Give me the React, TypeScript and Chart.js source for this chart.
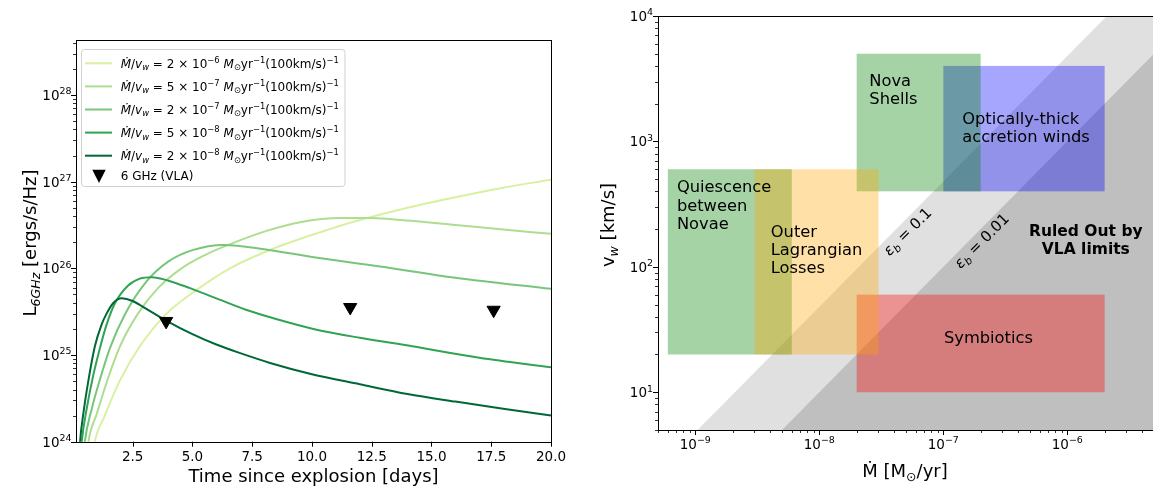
import { useEffect, useRef } from 'react';
import { Chart, registerables } from 'chart.js';

Chart.register(...registerables);

const FONT = '"DejaVu Sans", sans-serif';
const TICK_SIZE = 13.5;
const TITLE_SIZE = 18;

// ---------- Left panel: 6 GHz light curves, one per wind density Ṁ/v_w ----------
// time since explosion [days] and spectral luminosity [erg/s/Hz]
const daysA = [0.8, 0.92, 1.3, 1.97, 2.8, 3.92, 5, 6.57, 8.5, 10.6, 12, 14, 16, 18, 20];
const lumA = [5.6e23, 1.0e24, 1.9e24, 5.1e24, 1.26e25, 3.0e25, 5.2e25, 1.0e26, 1.74e26, 2.75e26, 3.6e26, 5.0e26, 6.6e26, 8.5e26, 1.05e27];

const daysB = [0.55, 0.65, 1.0, 1.47, 1.97, 2.72, 3.56, 4.5, 5.5, 6.5, 8.1, 9.5, 11.2, 12.5, 14, 16, 18, 20];
const lumB = [5.6e23, 1.0e24, 2.1e24, 5.4e24, 1.26e25, 3.0e25, 5.9e25, 9.8e25, 1.41e26, 1.86e26, 2.7e26, 3.4e26, 3.8e26, 3.8e26, 3.55e26, 3.16e26, 2.8e26, 2.5e26];

const daysC = [0.42, 0.5, 0.8, 1.13, 1.55, 2.18, 3.09, 4, 5, 6.3, 8, 10, 12.85, 16, 20];
const lumC = [5.6e23, 1.0e24, 2.45e24, 5.2e24, 1.2e25, 2.95e25, 7.1e25, 1.2e26, 1.62e26, 1.86e26, 1.66e26, 1.35e26, 1.05e26, 7.8e25, 5.8e25];

const daysD = [0.3, 0.37, 0.6, 0.85, 1.13, 1.4, 1.77, 2.3, 2.8, 3.3, 4.0, 4.9, 6.0, 7.27, 8.5, 10.06, 12, 14.2, 17, 20];
const lumD = [5.6e23, 1.0e24, 2.6e24, 5.8e24, 1.2e25, 2.2e25, 4.0e25, 6.3e25, 7.6e25, 7.9e25, 7.2e25, 5.9e25, 4.5e25, 3.3e25, 2.6e25, 2.0e25, 1.58e25, 1.26e25, 9.3e24, 7.2e24];

const daysE = [0.26, 0.3, 0.45, 0.65, 0.92, 1.2, 1.41, 1.7, 2.04, 2.5, 3.0, 3.9, 5, 6, 7, 8.25, 10, 12, 14, 16, 18, 20];
const lumE = [6.3e23, 1.0e24, 2.24e24, 5.1e24, 1.26e25, 2.24e25, 3.0e25, 4.0e25, 4.5e25, 4.2e25, 3.5e25, 2.5e25, 1.74e25, 1.32e25, 1.05e25, 8.1e24, 6.0e24, 4.6e24, 3.55e24, 2.9e24, 2.4e24, 2.0e24];

const windMantissa = ['2', '5', '2', '5', '2'];
const windExponent = ['−6', '−7', '−7', '−8', '−8'];
const windColors = ['#d9f0a3', '#addd8e', '#78c679', '#31a354', '#006837'];
const windDays = [daysA, daysB, daysC, daysD, daysE];
const windLum = [lumA, lumB, lumC, lumD, lumE];

// VLA 6 GHz upper limits
const vlaDays = [3.9, 11.6, 17.6];
const vlaLimits = [2.45e25, 3.55e25, 3.3e25];

const timeTicks = [2.5, 5, 7.5, 10, 12.5, 15, 17.5, 20];
const lumDecades = [24, 25, 26, 27, 28];

// ---------- Right panel: mass-loss rate vs wind speed ----------
const regionNames = [
  ['Optically-thick', 'accretion winds'],
  ['Nova', 'Shells'],
  ['Quiescence', 'between', 'Novae'],
  ['Symbiotics'],
  ['Outer', 'Lagrangian', 'Losses'],
];
const regionMdotMin = [1e-7, 2e-8, 6e-10, 2e-8, 3e-9];
const regionMdotMax = [2e-6, 2e-7, 6e-9, 2e-6, 3e-8];
const regionVMin = [400, 400, 20, 10, 20];
const regionVMax = [4000, 5000, 600, 60, 600];
const regionColors = ['rgba(0,0,255,0.35)', 'rgba(0,128,0,0.35)', 'rgba(0,128,0,0.35)', 'rgba(255,0,0,0.35)', 'rgba(255,165,0,0.35)'];

// limit lines for two magnetic-field efficiencies
const boundaryMdot = [5e-10, 5e-6];
const eps01V = [2.4, 24000];
const eps001V = [0.5, 5000];

const mdotDecades = [-9, -8, -7, -6];
const vDecades = [1, 2, 3, 4];
const MINOR_MANTISSAS = [2, 3, 4, 5, 6, 7, 8, 9];

// label placement in data coordinates (Ṁ, v_w) of the first line's centre
const REGION_LABEL_AT: [number, number, 'left' | 'center'][] = [
  [1.42e-7, 1546, 'left'],
  [2.53e-8, 3090, 'left'],
  [7.1e-10, 436, 'left'],
  [2.31e-7, 27.4, 'center'],
  [4.06e-9, 194, 'left'],
];

type Run = { t: string; it?: boolean; b?: boolean; sub?: boolean; sup?: boolean };

function fontOf(r: Run, size: number) {
  const s = r.sub || r.sup ? size * 0.7 : size;
  return `${r.it ? 'italic ' : ''}${r.b ? 'bold ' : ''}${s}px ${FONT}`;
}

function runsWidth(ctx: CanvasRenderingContext2D, runs: Run[], size: number) {
  let w = 0;
  for (const r of runs) {
    ctx.font = fontOf(r, size);
    w += ctx.measureText(r.t).width;
  }
  return w;
}

function drawRuns(ctx: CanvasRenderingContext2D, runs: Run[], x: number, baseline: number, size: number, align: 'left' | 'center' | 'right') {
  const w = runsWidth(ctx, runs, size);
  let cx = align === 'left' ? x : align === 'center' ? x - w / 2 : x - w;
  ctx.textAlign = 'left';
  ctx.textBaseline = 'alphabetic';
  for (const r of runs) {
    ctx.font = fontOf(r, size);
    const dy = r.sub ? size * 0.22 : r.sup ? -size * 0.42 : 0;
    ctx.fillText(r.t, cx, baseline + dy);
    cx += ctx.measureText(r.t).width;
  }
}

function powRuns(e: number): Run[] {
  return [{ t: '10' }, { t: e < 0 ? '−' + -e : String(e), sup: true }];
}

function minorValues(min: number, max: number): number[] {
  const out: number[] = [];
  for (let e = Math.floor(Math.log10(min)); e <= Math.ceil(Math.log10(max)); e++) {
    for (const m of MINOR_MANTISSAS) {
      const v = m * Math.pow(10, e);
      if (v >= min * 0.999 && v <= max * 1.001) out.push(v);
    }
  }
  return out;
}

function xTick(ctx: CanvasRenderingContext2D, chart: any, v: number, len: number, lw: number) {
  const x = Math.round(chart.scales.x.getPixelForValue(v)) + 0.5;
  const y = chart.chartArea.bottom;
  ctx.lineWidth = lw;
  ctx.beginPath();
  ctx.moveTo(x, y);
  ctx.lineTo(x, y + len);
  ctx.stroke();
}

function yTick(ctx: CanvasRenderingContext2D, chart: any, v: number, len: number, lw: number) {
  const y = Math.round(chart.scales.y.getPixelForValue(v)) + 0.5;
  const x = chart.chartArea.left;
  ctx.lineWidth = lw;
  ctx.beginPath();
  ctx.moveTo(x, y);
  ctx.lineTo(x - len, y);
  ctx.stroke();
}

function drawFrame(ctx: CanvasRenderingContext2D, a: any) {
  ctx.lineWidth = 1;
  ctx.strokeStyle = '#000';
  ctx.strokeRect(Math.round(a.left) + 0.5, Math.round(a.top) + 0.5, Math.round(a.right - a.left), Math.round(a.bottom - a.top));
}

function verticalTitle(ctx: CanvasRenderingContext2D, runs: Run[], cx: number, cy: number, size: number) {
  ctx.save();
  ctx.translate(cx, cy);
  ctx.rotate(-Math.PI / 2);
  drawRuns(ctx, runs, 0, size * 0.36, size, 'center');
  ctx.restore();
}

function windLabel(i: number): Run[] {
  return [
    { t: 'Ṁ', it: true },
    { t: '/' },
    { t: 'v', it: true },
    { t: 'w', it: true, sub: true },
    { t: ' = ' + windMantissa[i] + ' × 10' },
    { t: windExponent[i], sup: true },
    { t: ' ' },
    { t: 'M', it: true },
    { t: '⊙', sub: true },
    { t: 'yr' },
    { t: '−1', sup: true },
    { t: '(100km/s)' },
    { t: '−1', sup: true },
  ];
}

const leftDecor = {
  id: 'leftDecor',
  afterDraw(chart: any) {
    const { ctx, chartArea: a, scales } = chart;
    ctx.save();
    ctx.strokeStyle = '#000';
    ctx.fillStyle = '#000';

    for (const v of timeTicks) {
      xTick(ctx, chart, v, 5, 1);
      drawRuns(ctx, [{ t: v.toFixed(1) }], scales.x.getPixelForValue(v), a.bottom + 19, TICK_SIZE, 'center');
    }
    for (const e of lumDecades) {
      const v = Math.pow(10, e);
      yTick(ctx, chart, v, 5, 1);
      drawRuns(ctx, powRuns(e), a.left - 4.5, scales.y.getPixelForValue(v) + 5, TICK_SIZE, 'right');
    }
    for (const v of minorValues(scales.y.min, scales.y.max)) yTick(ctx, chart, v, 3, 0.8);

    drawFrame(ctx, a);

    ctx.fillStyle = '#000';
    drawRuns(ctx, [{ t: 'Time since explosion [days]' }], (a.left + a.right) / 2, 482, TITLE_SIZE, 'center');
    verticalTitle(ctx, [{ t: 'L' }, { t: '6GHz', it: true, sub: true }, { t: ' [ergs/s/Hz]' }], 30, 243, TITLE_SIZE);

    // legend
    const bx = a.left + 5.5;
    const by = a.top + 9.5;
    const bw = 263.5;
    const bh = 137;
    ctx.beginPath();
    ctx.roundRect(bx, by, bw, bh, 3);
    ctx.fillStyle = 'rgba(255,255,255,0.8)';
    ctx.fill();
    ctx.strokeStyle = 'rgba(204,204,204,0.9)';
    ctx.lineWidth = 1;
    ctx.stroke();
    const size = 12;
    for (let i = 0; i < windColors.length; i++) {
      const ry = a.top + 23.3 + i * 23.1;
      ctx.strokeStyle = windColors[i];
      ctx.lineWidth = 2;
      ctx.beginPath();
      ctx.moveTo(a.left + 9, ry);
      ctx.lineTo(a.left + 36, ry);
      ctx.stroke();
      ctx.fillStyle = '#000';
      drawRuns(ctx, windLabel(i), a.left + 44.7, ry + 4.3, size, 'left');
    }
    const ty = a.top + 136;
    const tx = a.left + 23;
    ctx.fillStyle = '#000';
    ctx.beginPath();
    ctx.moveTo(tx - 6.7, ty - 6.2);
    ctx.lineTo(tx + 6.7, ty - 6.2);
    ctx.lineTo(tx, ty + 7);
    ctx.closePath();
    ctx.fill();
    drawRuns(ctx, [{ t: '6 GHz (VLA)' }], a.left + 44.7, ty + 4.3, size, 'left');
    ctx.restore();
  },
};

const rightDecor = {
  id: 'rightDecor',
  afterDatasetsDraw(chart: any) {
    const { ctx, chartArea: a, scales } = chart;
    ctx.save();
    ctx.beginPath();
    ctx.rect(a.left, a.top, a.right - a.left, a.bottom - a.top);
    ctx.clip();
    for (let i = 0; i < regionNames.length; i++) {
      const x0 = scales.x.getPixelForValue(regionMdotMin[i]);
      const x1 = scales.x.getPixelForValue(regionMdotMax[i]);
      const y0 = scales.y.getPixelForValue(regionVMax[i]);
      const y1 = scales.y.getPixelForValue(regionVMin[i]);
      ctx.fillStyle = regionColors[i];
      ctx.fillRect(x0, y0, x1 - x0, y1 - y0);
    }
    const size = 16.3;
    const gap = 18.3;
    ctx.fillStyle = '#000';
    for (let i = 0; i < regionNames.length; i++) {
      const [m, v, align] = REGION_LABEL_AT[i];
      const x = scales.x.getPixelForValue(m);
      const y = scales.y.getPixelForValue(v);
      regionNames[i].forEach((line, k) => drawRuns(ctx, [{ t: line }], x, y + k * gap + size * 0.36, size, align));
    }
    // ruled-out note
    const rx = scales.x.getPixelForValue(1.41e-6);
    const ry = scales.y.getPixelForValue(194);
    drawRuns(ctx, [{ t: 'Ruled Out by', b: true }], rx, ry + 5.6, 15.5, 'center');
    drawRuns(ctx, [{ t: 'VLA limits', b: true }], rx, ry + 17.6 + 5.6, 15.5, 'center');
    // efficiency labels along the limit lines
    const eps: [number, number, string][] = [
      [5.14e-8, 191, ' = 0.1'],
      [2.04e-7, 161, ' = 0.01'],
    ];
    for (const [m, v, txt] of eps) {
      ctx.save();
      ctx.translate(scales.x.getPixelForValue(m), scales.y.getPixelForValue(v));
      ctx.rotate(-Math.PI / 4);
      drawRuns(ctx, [{ t: 'ε', it: true }, { t: 'b', it: true, sub: true }, { t: txt }], 0, 5, 15, 'center');
      ctx.restore();
    }
    ctx.restore();
  },
  afterDraw(chart: any) {
    const { ctx, chartArea: a, scales } = chart;
    ctx.save();
    ctx.strokeStyle = '#000';
    ctx.fillStyle = '#000';
    for (const e of mdotDecades) {
      const v = Math.pow(10, e);
      xTick(ctx, chart, v, 5, 1);
      drawRuns(ctx, powRuns(e), scales.x.getPixelForValue(v), a.bottom + 18.5, TICK_SIZE, 'center');
    }
    for (const v of minorValues(scales.x.min, scales.x.max)) xTick(ctx, chart, v, 3, 0.8);
    for (const e of vDecades) {
      const v = Math.pow(10, e);
      yTick(ctx, chart, v, 5, 1);
      drawRuns(ctx, powRuns(e), a.left - 5, scales.y.getPixelForValue(v) + 5, TICK_SIZE, 'right');
    }
    for (const v of minorValues(scales.y.min, scales.y.max)) yTick(ctx, chart, v, 3, 0.8);
    drawFrame(ctx, a);
    ctx.fillStyle = '#000';
    drawRuns(ctx, [{ t: 'Ṁ' }, { t: ' [M' }, { t: '⊙', sub: true }, { t: '/yr]' }], (a.left + a.right) / 2 - 1, 477, TITLE_SIZE, 'center');
    verticalTitle(ctx, [{ t: 'v' }, { t: 'w', it: true, sub: true }, { t: ' [km/s]' }], a.left - 50.5, 225, TITLE_SIZE);
    ctx.restore();
  },
};

export default function App() {
  const leftRef = useRef<HTMLCanvasElement>(null);
  const rightRef = useRef<HTMLCanvasElement>(null);

  useEffect(() => {
    const curveSets: any[] = windColors.map((c, i) => ({
      type: 'line',
      data: windDays[i].map((d, k) => ({ x: d, y: windLum[i][k] })),
      borderColor: c,
      backgroundColor: c,
      borderWidth: 2,
      pointRadius: 0,
      cubicInterpolationMode: 'monotone',
      fill: false,
      order: 5 - i,
    }));
    const vlaSet: any = {
      type: 'line',
      data: vlaDays.map((d, k) => ({ x: d, y: vlaLimits[k] })),
      showLine: false,
      pointStyle: 'triangle',
      rotation: 180,
      pointRadius: 7.6,
      pointBorderWidth: 1,
      pointBackgroundColor: '#000',
      pointBorderColor: '#000',
      order: 0,
    };

    const left = new Chart(leftRef.current as HTMLCanvasElement, {
      type: 'line',
      data: { datasets: [vlaSet, ...curveSets] },
      options: {
        animation: false,
        responsive: false,
        devicePixelRatio: 1,
        events: [],
        layout: { padding: { left: 76, top: 40, right: 25, bottom: 49.3 } },
        plugins: { legend: { display: false }, tooltip: { enabled: false } },
        scales: {
          x: { type: 'linear', min: 0.13, max: 20, display: false },
          y: { type: 'logarithmic', min: 1e24, max: 4.3e28, display: false },
        },
      },
      plugins: [leftDecor],
    } as any);

    const right = new Chart(rightRef.current as HTMLCanvasElement, {
      type: 'line',
      data: {
        datasets: [
          {
            data: boundaryMdot.map((m, k) => ({ x: m, y: eps001V[k] })),
            fill: 'start',
            backgroundColor: '#bfbfbf',
            borderColor: 'rgba(0,0,0,0)',
            borderWidth: 0,
            pointRadius: 0,
            order: 0,
          },
          {
            data: boundaryMdot.map((m, k) => ({ x: m, y: eps01V[k] })),
            fill: 'start',
            backgroundColor: '#e0e0e0',
            borderColor: 'rgba(0,0,0,0)',
            borderWidth: 0,
            pointRadius: 0,
            order: 1,
          },
        ],
      },
      options: {
        animation: false,
        responsive: false,
        devicePixelRatio: 1,
        events: [],
        layout: { padding: { left: 82, top: 16, right: 2, bottom: 61 } },
        plugins: { legend: { display: false }, tooltip: { enabled: false } },
        scales: {
          x: { type: 'logarithmic', min: 5e-10, max: 5e-6, display: false },
          y: { type: 'logarithmic', min: 5, max: 1e4, display: false },
        },
      },
      plugins: [rightDecor],
    } as any);

    return () => {
      left.destroy();
      right.destroy();
    };
  }, []);

  return (
    <div style={{ position: 'absolute', left: 0, top: 0, width: 1153, height: 491, overflow: 'hidden', background: '#fff' }}>
      <canvas ref={leftRef} width={576} height={491} style={{ position: 'absolute', left: 0, top: 0 }} />
      <canvas ref={rightRef} width={580} height={491} style={{ position: 'absolute', left: 576, top: 0 }} />
    </div>
  );
}
